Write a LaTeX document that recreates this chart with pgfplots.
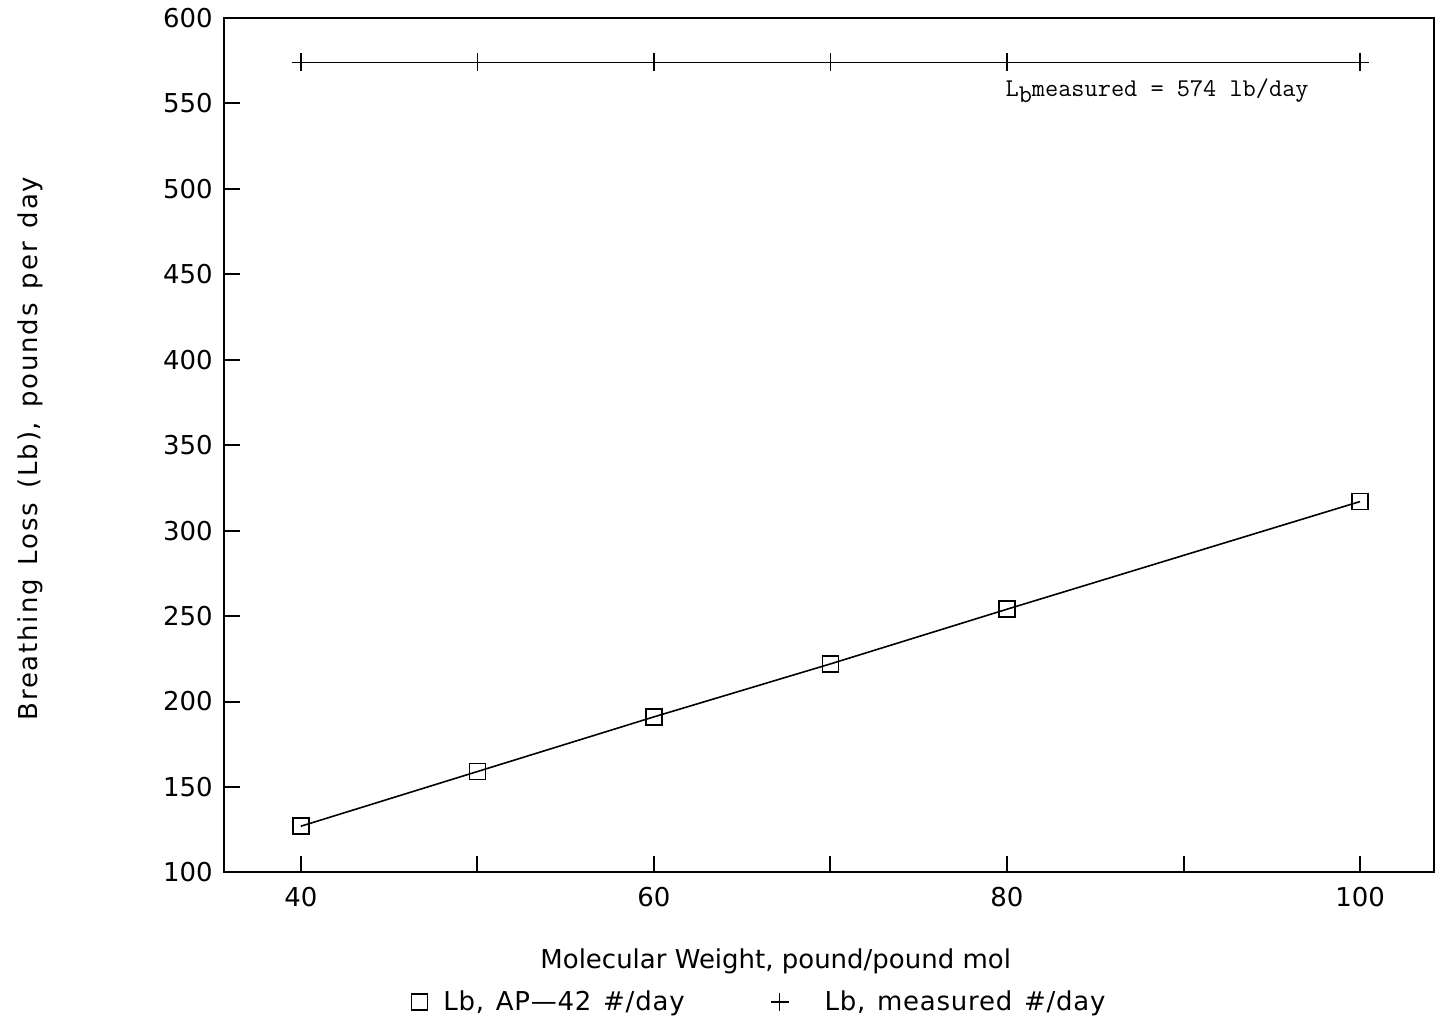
\documentclass[border=0pt]{standalone}
\usepackage{pgfplots}
\pgfplotsset{compat=1.18}
\usepackage{fontspec}
\setmainfont{DejaVu Sans}
\newfontfamily\widesans[LetterSpace=7,WordSpace=1.4]{DejaVu Sans}
\newfontfamily\legsans[LetterSpace=3,WordSpace=1.3]{DejaVu Sans}
\begin{document}
\begin{tikzpicture}
\begin{axis}[
  scale only axis, width=605.5pt, height=427.5pt,
  xmin=35.64, xmax=104.19, ymin=100, ymax=600,
  xtick={40,50,...,100}, xticklabels={40,,60,,80,,100},
  ytick={100,150,...,600},
  tick pos=left, tick align=inside, major tick length=8pt,
  axis line style={line width=1pt},
  every tick/.style={black, line width=1pt},
  font=\fontsize{13}{15}\selectfont,
  /pgf/number format/assume math mode=true,
  xticklabel style={yshift=-4pt},
  yticklabel style={xshift=-2pt},
  xlabel={Molecular Weight, pound/pound mol},
  xlabel style={at={(axis description cs:0.456,-0.104)}, anchor=center},
  ylabel={\widesans Breathing Loss (Lb), pounds per day},
  ylabel style={at={(axis description cs:-0.160,0.496)}, anchor=center},
  legend columns=2,
  legend style={at={(axis description cs:0.4434,-0.152)}, anchor=center, draw=none, fill=none,
    font=\legsans\fontsize{13}{15}\selectfont,
    /tikz/every even column/.append style={column sep=41pt},
    /tikz/every odd column/.append style={column sep=6pt}},
]
\addlegendimage{only marks, mark=square, mark size=4pt, line width=0.8pt}
\addlegendentry{Lb, AP\textemdash42 \#/day}
\addlegendimage{only marks, mark=+, mark size=4.5pt, line width=0.8pt}
\addlegendentry{\hspace{10pt}Lb, measured \#/day}
\addplot[black, line width=0.8pt, mark=square, mark size=4pt, forget plot] coordinates {
  (40,127) (50,159) (60,191) (70,222) (80,254) (100,317)};
\addplot[black, line width=0.8pt, mark=+, mark size=4.5pt, forget plot] coordinates {
  (40,574) (50,574) (60,574) (70,574) (80,574) (100,574)};
\node[anchor=base west, font=\ttfamily\fontsize{12.8}{15}\selectfont, inner sep=0pt] at (axis cs:79.9,553.8) {L\raisebox{-0.55ex}{b}measured = 574 lb/day};
\end{axis}
\pgfresetboundingbox
\path[use as bounding box] ([shift={(-112pt,-75.86pt)}]current axis.south west) rectangle ([shift={(2.5pt,9pt)}]current axis.north east);
\end{tikzpicture}
\end{document}
